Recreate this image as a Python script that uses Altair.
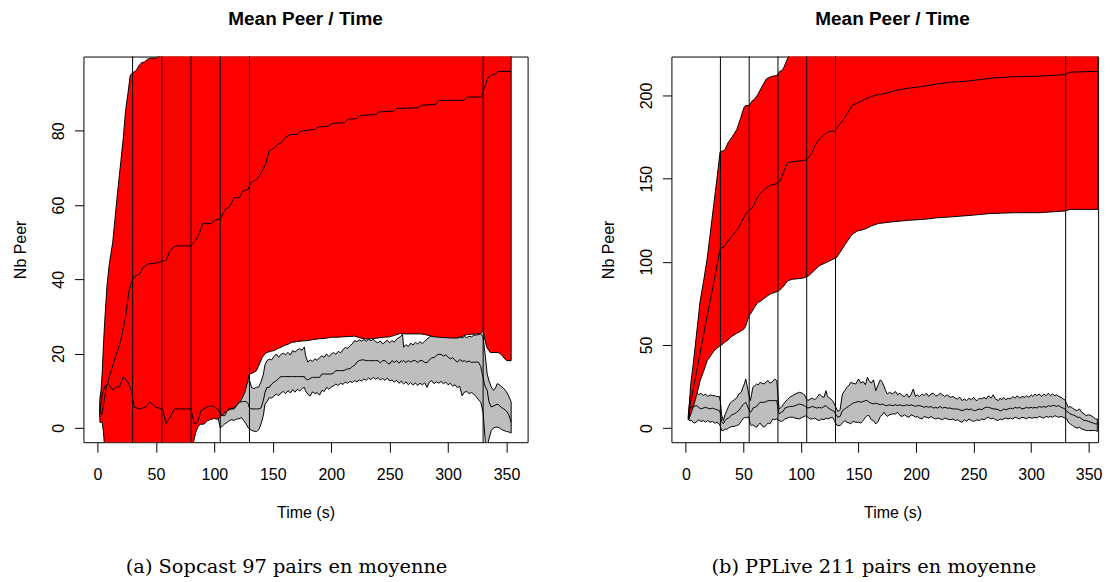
import altair as alt
import pandas as pd

# ---------------- text / ticks ----------------
X_TICKS = [0, 50, 100, 150, 200, 250, 300, 350]
VLINES = [30, 55, 80, 105, 130, 330]
TITLES = ["Mean Peer / Time", "Mean Peer / Time"]
CAPTIONS = ["(a) Sopcast 97 pairs en moyenne", "(b) PPLive 211 pairs en moyenne"]
X_LABEL = "Time (s)"
Y_LABEL = "Nb Peer"
L_Y_TICKS = [0, 20, 40, 60, 80]
R_Y_TICKS = [0, 50, 100, 150, 200]

# ---------------- Sopcast (left) ----------------
L_RED_T = [2, 3, 4, 5, 6, 8, 10, 13, 17, 20,
           22, 24, 26, 28, 30, 33, 36, 38, 40, 43,
           46, 50, 54, 58, 65, 75, 80, 82, 84, 86,
           88, 91, 94, 97, 100, 103, 105, 108, 111, 114,
           117, 120, 123, 126, 128, 130, 133, 136, 139, 141,
           143, 145, 148, 151, 154, 157, 160, 163, 166, 170,
           175, 180, 185, 190, 195, 200, 205, 210, 215, 220,
           225, 230, 235, 240, 245, 250, 255, 259, 263, 267,
           272, 277, 282, 287, 292, 297, 302, 307, 312, 316,
           320, 325, 328, 330, 331, 333, 336, 340, 343, 346,
           348, 350, 354]
L_RED_LO = [1.5, 1.5, 1.5, -1, -5, -10, -14, -18, -20, -22,
            -22, -22, -22, -22, -22, -21, -21, -20, -20, -19,
            -19, -18, -18, -17, -15, -10, -8, -4, -1.3, 0.3,
            1.0, 1.0, 1.9, 2.3, 2.5, 2.3, 3.0, 3.8, 4.6, 5.0,
            5.5, 6.3, 7.5, 9.5, 11.8, 14.5, 14.8, 15.4, 17.5, 19.0,
            19.8, 20.3, 20.6, 20.8, 21.3, 21.7, 22.2, 22.5, 23.0, 23.2,
            23.4, 23.5, 23.8, 24.0, 24.1, 24.4, 24.4, 24.5, 24.6, 24.7,
            24.2, 23.9, 24.0, 24.2, 24.4, 24.5, 25.0, 25.4, 25.3, 25.3,
            25.3, 25.3, 25.0, 24.6, 24.4, 24.3, 24.2, 24.2, 24.6, 25.1,
            25.2, 25.3, 25.4, 26.2, 24.5, 21.8, 20.3, 20.3, 20.3, 19.6,
            18.8, 18.1, 18.1]
L_RED_UP = [8, 10, 15, 22, 28, 38, 44, 50, 63, 72,
            78, 85.5, 90, 95, 95.6, 96.2, 97.8, 98.4, 98.5, 99.3,
            99.6, 99.6, 100.3, 102, 104, 106, 107, 107.5, 108, 108,
            108, 108.5, 109, 109, 109.5, 110, 110, 110.5, 111, 111,
            111.5, 112, 112, 112.5, 112.5, 113, 113, 113.5, 113.5, 114,
            114, 114.5, 114.5, 115, 115, 115, 115.5, 115.5, 116, 116,
            116, 116.5, 116.5, 117, 117, 117, 117.5, 117.5, 117.5, 118,
            118, 118, 118.5, 118.5, 118.5, 119, 119, 119, 119, 119.5,
            119.5, 119.5, 119.5, 120, 120, 120, 120, 120, 120.5, 120.5,
            120.5, 120.5, 120.5, 121, 121, 121, 121, 121, 121, 121,
            121, 121, 121]

L_MEAN_T = [2, 3.6, 7.5, 13.4, 19.5, 23.9, 26.9, 29.9, 32.9, 35.9,
            38.9, 43.4, 52.4, 55.4, 58.4, 61.4, 64.4, 67.4, 79.4, 83.9,
            86.9, 89.9, 97.4, 100.4, 104.9, 109.4, 112.4, 116.9, 121.4, 124.4,
            128.9, 131, 136.4, 139.4, 143.9, 146.9, 151.3, 154.3, 157.3, 160.3,
            164.8, 170.8, 173.8, 185.8, 188.8, 197.9, 200.9, 211.3, 214.3, 221.8,
            224.8, 238.3, 241.3, 253.3, 256.3, 274.3, 277.3, 289.2, 292.2, 313.3,
            316.3, 328.2, 331.2, 334.2, 337.2, 340.2, 342.6, 354]
L_MEAN_V = [4.5, 3.5, 10.9, 17.2, 23, 29.7, 36.9, 40, 41, 41.4,
            43.2, 44.1, 44.5, 45, 45, 47.2, 48.6, 49, 49, 50.4,
            52.2, 55, 55, 56, 56.2, 58.9, 59.3, 62, 62, 63.8,
            64.2, 66, 66.9, 68.3, 71, 74.6, 75.4, 76.3, 76.8, 78.1,
            79, 79, 79.9, 80.4, 81, 81.3, 82, 82.2, 83.1, 83.3,
            84.1, 84.4, 85.1, 85.3, 86, 86.2, 86.9, 87.1, 88.2, 88.2,
            89.1, 89.1, 91.6, 94.3, 95, 95.2, 96, 96]

L_GREY_T = [2, 4, 6, 9, 13, 16, 19, 22, 26, 28.6,
            31.5, 36, 41.5, 44.3, 47.2, 50, 55.7, 58.5, 62.8, 65.7,
            79.9, 82.8, 85.6, 88.5, 92.7, 97, 99.9, 103, 105, 107,
            109, 111, 113, 115, 117, 119, 121, 123, 125, 127,
            129, 130, 132, 134, 136, 138, 140, 142, 143.3, 145,
            147, 149, 151, 153, 155, 157, 159, 161, 163, 165,
            167, 169, 171, 173, 175, 177, 178, 180, 182, 184,
            186, 188, 190, 192, 194, 196, 198, 200, 202, 204,
            206, 208, 210, 212, 214, 216, 218, 220, 222, 224,
            226, 228, 230, 232, 234, 236, 238, 240, 242, 244,
            246, 248, 250, 252, 254, 256, 258, 260, 261, 262,
            264, 266, 268, 270, 272, 274, 276, 278, 280, 282,
            284, 286, 288, 290, 292, 294, 296, 298, 300, 302,
            304, 306, 308, 310, 312, 314, 316, 318, 320, 322,
            324, 326, 328, 330, 331, 332, 333.5, 335, 337, 339,
            341, 342, 344, 346, 347.7, 350, 352, 354]
L_GREY_LO = [3.0, 5.0, 7.0, 9.0, 8.0, 8.5, 9.0, 11.0, 10.0, 8.0,
             3.0, 3.0, 3.5, 4.5, 4.0, 3.5, 3.0, -0.5, 1.0, 3.0,
             3.0, 0.0, 0.5, 2.0, 3.0, 3.5, 3.5, 3.0, 0.0, 0.5,
             1.1, 1.5, 2.0, 2.2, 2.0, 2.4, 2.4, 2.8, 2.0, 1.1,
             0.0, -0.3, -0.7, -0.9, -1.0, -0.5, 1.1, 3.5, 6.4, 7.0,
             8.2, 8.0, 8.6, 9.1, 8.7, 9.4, 9.8, 9.2, 10.0, 9.4,
             10.3, 9.6, 10.4, 9.9, 10.6, 10.9, 10.0, 9.0, 8.6, 9.7,
             9.2, 9.5, 8.8, 10.1, 9.8, 10.9, 10.4, 11.0, 11.3, 11.8,
             11.4, 12.0, 11.7, 12.3, 12.0, 12.5, 12.2, 12.7, 12.4, 12.9,
             12.6, 13.2, 12.8, 13.4, 13.0, 13.6, 13.1, 13.5, 12.9, 13.3,
             12.8, 13.4, 12.6, 12.9, 12.3, 12.8, 12.0, 12.6, 12.1, 11.8,
             12.4, 11.6, 12.2, 11.5, 12.1, 11.4, 12.0, 11.6, 12.1, 10.9,
             12.3, 12.7, 11.9, 12.4, 12.0, 12.5, 11.9, 12.3, 11.6, 12.0,
             11.2, 11.6, 10.8, 11.2, 8.6, 9.6, 9.8, 9.2, 9.5, 9.1,
             8.4, 7.6, 6.9, 4.0, 0.0, -4.3, -5.0, -3.0, -0.7, 0.0,
             0.2, 0.2, 0.0, -0.5, -0.7, -1.0, -1.1, -1.4]
L_GREY_MID = [4.5, 9.0, 11.0, 12.0, 10.2, 10.9, 11.1, 13.8, 12.3, 10.5,
              5.5, 5.1, 5.7, 6.9, 6.4, 5.5, 5.1, 1.1, 3.3, 5.1,
              5.1, 1.1, 1.5, 4.6, 5.5, 5.9, 5.7, 5.0, 3.8, 3.3,
              3.3, 4.6, 5.4, 5.1, 5.1, 6.0, 6.9, 7.0, 7.1, 7.1,
              6.5, 5.3, 5.1, 5.1, 5.1, 5.1, 5.4, 7.5, 9.5, 10.9,
              10.9, 11.8, 12.3, 12.7, 13.3, 13.8, 13.8, 13.8, 13.8, 13.8,
              13.8, 13.8, 13.8, 13.8, 13.8, 13.8, 13.2, 12.9, 13.3, 13.6,
              13.6, 13.6, 13.6, 14.5, 14.5, 14.5, 14.5, 14.5, 14.8, 15.4,
              15.4, 15.4, 15.4, 15.6, 15.9, 15.9, 16.5, 16.8, 17.7, 18.1,
              18.3, 18.3, 18.1, 18.1, 18.1, 18.1, 18.1, 18.1, 17.5, 18.1,
              18.1, 17.5, 17.2, 18.1, 17.6, 18.1, 17.4, 18.1, 17.8, 18.1,
              17.6, 18.1, 17.7, 18.1, 18.1, 17.6, 18.1, 18.1, 17.6, 17.6,
              18.2, 18.9, 18.9, 19.5, 19.8, 19.8, 19.3, 19.7, 19.0, 18.6,
              18.9, 18.2, 17.7, 18.4, 17.9, 18.1, 17.7, 18.0, 17.6, 17.7,
              17.7, 17.7, 16.5, 13.5, 12.0, 11.0, 10.1, 7.0, 5.6, 5.9,
              6.2, 6.4, 6.0, 5.4, 5.1, 4.5, 3.5, 1.5]
L_GREY_UP = [6.0, 12.0, 14.0, 15.0, 13.0, 14.0, 14.0, 17.0, 15.0, 13.0,
             8.0, 8.0, 8.5, 9.5, 9.0, 8.0, 8.0, 3.5, 6.0, 8.0,
             8.0, 3.5, 4.0, 7.0, 8.0, 8.5, 8.5, 8.0, 6.0, 6.5,
             7.0, 8.0, 8.5, 9.0, 9.5, 10.0, 10.5, 11.0, 11.5, 11.8,
             12.5, 12.8, 10.8, 10.6, 10.9, 11.0, 12.5, 14.5, 17.0, 18.1,
             18.5, 18.3, 19.2, 19.9, 19.0, 19.8, 20.1, 19.7, 20.3, 19.6,
             20.8, 20.4, 21.0, 21.3, 20.9, 21.8, 19.5, 17.7, 18.3, 17.9,
             18.6, 18.2, 18.9, 19.4, 19.0, 19.9, 19.2, 19.8, 20.3, 19.8,
             20.6, 20.2, 21.0, 21.7, 21.4, 22.1, 22.6, 23.5, 23.2, 23.7,
             23.4, 23.8, 23.3, 23.9, 23.4, 23.9, 23.2, 22.9, 23.4, 22.6,
             23.1, 23.6, 22.9, 23.5, 23.1, 23.9, 24.3, 24.8, 25.2, 21.7,
             22.4, 21.9, 22.8, 22.3, 23.0, 22.6, 23.2, 22.7, 23.3, 23.9,
             24.4, 24.8, 24.5, 24.9, 24.6, 24.9, 24.7, 24.9, 24.6, 24.8,
             24.3, 24.6, 24.1, 24.5, 24.2, 24.6, 24.3, 24.7, 24.5, 24.9,
             25.0, 25.1, 25.3, 24.5, 21.7, 19.0, 14.5, 12.7, 11.0, 10.1,
             11.0, 11.9, 11.6, 11.0, 10.6, 9.7, 8.5, 7.0]

# ---------------- PPLive (right) ----------------
R_RED_T = [2.5, 4, 6.3, 9, 12.4, 15.3, 18.5, 21, 24.5, 27,
           29.7, 31, 33.6, 36.6, 39.6, 42, 44.2, 47.2, 50.3, 51.8,
           54.8, 56.4, 57.8, 59.4, 62.4, 65.5, 67, 70, 73, 74.6,
           79.2, 81.6, 83.7, 85.2, 86.7, 88.3, 88.9, 92.8, 100, 103.5,
           106.5, 111.1, 115.6, 121.7, 127.8, 130.8, 133.8, 138.4, 144.5, 149.1,
           155.1, 161.2, 167.2, 179.4, 194.5, 206.6, 218.7, 230.8, 249, 264.2,
           285.5, 306.7, 329.3, 333.8, 358]
R_RED_LO = [5, 8, 12.5, 19, 28.5, 34, 40.5, 43, 46.5, 48,
            49.5, 50, 51.5, 53, 55, 56, 57, 58, 59.5, 61,
            67.5, 69, 70.5, 72.5, 75.5, 76.5, 77.5, 79, 80.5, 81,
            82, 83, 84.5, 85.5, 87, 88.5, 88.7, 89.5, 90, 90.5,
            91.5, 94.5, 97.5, 99.5, 101.5, 102.5, 105.5, 110.5, 116.5, 118.5,
            119.5, 121.5, 123, 124, 125, 125.5, 126.5, 127, 128, 129,
            129.5, 129.5, 130.5, 131.5, 131.5]
R_RED_UP = [8, 25, 38, 55, 76.5, 88, 102, 116, 136, 150,
            166, 166.5, 167, 171.5, 174.5, 177, 179.5, 185.5, 192.5, 194,
            194, 195.5, 197, 197.5, 200.5, 204.5, 206.5, 210, 211, 211.5,
            212, 214.5, 215, 217, 219.5, 222, 223, 229, 235, 237,
            239, 242, 244, 248, 251, 253, 255, 258, 262, 265,
            268, 270, 272, 276, 280, 283, 285, 287, 289, 291,
            293, 294, 295, 297, 298]

R_MEAN_T = [2.5, 3.3, 29.7, 33.6, 36.6, 41.2, 45.8, 48.8, 51.8, 54.8,
            57.8, 60.9, 63.9, 68.5, 73, 79.2, 82.2, 85.2, 88.3, 91.3,
            103.5, 106.5, 109.6, 112.6, 115.6, 120.2, 124.8, 129.3, 132.4, 136.9,
            141.5, 144.5, 149.1, 155.1, 161.2, 167.2, 174.8, 182.3, 194.5, 206.6,
            218.7, 230.8, 243, 255.1, 267.3, 285.5, 303.7, 315.8, 329.3, 333.8,
            358]
R_MEAN_V = [6, 12.5, 107.5, 109.5, 112.5, 116.5, 120.5, 124.5, 128.5, 131,
            132.5, 137, 140.5, 143.5, 146, 147, 149, 154.5, 159.5, 160,
            161, 162.5, 165.5, 170.5, 173.5, 176.5, 178.5, 178.5, 181.5, 185.5,
            190.5, 194, 195.5, 197.5, 199.5, 200.5, 201.5, 203, 204.5, 205.5,
            207, 208, 208.5, 209.5, 210.5, 211.3, 211.5, 212, 212.5, 214,
            214.5]

R_GREY_T = [2, 3.5, 5, 7, 9, 11, 13, 15, 17, 19,
            21, 23, 25, 27, 29, 30, 31, 32.5, 34, 35.5,
            37, 38.5, 40, 42, 44, 46, 48, 49.6, 51, 52,
            53, 54.8, 56, 57, 58.2, 60, 61.5, 63, 64.5, 66,
            68, 70, 71.5, 73, 75.5, 77, 79, 80, 81, 83,
            84.5, 86, 88, 90, 92.8, 95, 98.6, 101, 103, 104.4,
            106, 108, 110, 112, 114, 116, 118, 120, 121.7, 123,
            125, 127.4, 129, 130.3, 132, 134, 136, 138, 140, 142,
            143.3, 145, 147.6, 150, 152, 154, 156, 157.7, 159.2, 161,
            163, 165, 167, 169, 170.7, 172.2, 173.6, 175, 177, 179.4,
            182.2, 184, 186, 188, 190, 192, 193.8, 195.5, 197.6, 199.5,
            201, 203, 205.3, 207, 209, 211, 213, 215, 217, 218.7,
            221, 223, 225, 227, 229.8, 232, 234.2, 236, 238, 240,
            242, 244, 246, 248, 250, 251.5, 253, 255, 257.2, 259,
            261, 263, 265, 267, 269, 271.6, 273, 274.5, 276, 278,
            280, 282, 284, 286.1, 288, 290, 292, 294.7, 296, 298,
            300, 301.5, 303.3, 305, 307, 309, 311, 313, 315, 317,
            318.5, 320.6, 322, 324, 326, 327.8, 329.3, 331, 332.2, 334,
            336, 338, 340, 342, 344, 346, 347.9, 350, 352, 354,
            356, 357.5]
R_GREY_LO = [5, 4.5, 4.5, 3, 3.5, 5, 4, 4.5, 3.5, 4.5,
             3.5, 4, 3, 3.5, 2.5, 1, -1.5, -1.5, -0.5, -0.8,
             0, 0.5, 1, 1, 1.5, 2, 4, 5.5, 6.5, 6,
             6.5, 6.5, 2, 1.5, 2, 1, 0.5, 2, 3, 1.5,
             0.5, 2, 3, 2.5, 5.5, 5, 5.5, 5, 4.5, 4,
             4.5, 5.5, 6, 6.5, 6.5, 6, 5.5, 6.5, 7, 7.5,
             6.5, 5.5, 5.5, 6, 5, 4.5, 5.5, 5, 6, 5.5,
             6, 6.5, 4.5, 2.5, 1.5, 1.5, 3, 4.5, 3.5, 3,
             2.5, 4, 3.5, 3.5, 3, 4.5, 6.5, 7.5, 7.5, 5,
             4.5, 2.5, 4, 7, 8, 9.5, 8, 7, 8, 8.5,
             8.5, 9.5, 7.5, 7, 8, 7, 6.5, 8, 7.5, 6.5,
             7, 6, 5.5, 7, 6.5, 6, 7, 6, 5.5, 6,
             5.5, 5, 6, 5.5, 5, 5.5, 4.5, 5, 4, 3.5,
             5, 4, 5.5, 4.5, 4, 4.5, 5, 4.5, 5.5, 5,
             6, 6.5, 5.5, 6, 5, 4.5, 5.5, 5, 5.5, 6,
             5.5, 6, 5.5, 6.5, 6, 5.5, 6.5, 6, 5.5, 6.5,
             6, 6, 6.5, 6, 7, 6.5, 6, 7, 6.5, 7,
             6.5, 7.5, 7, 6.5, 7, 6.5, 6, 5.5, 3.5, 2.5,
             1.5, 0.5, 0, 0.5, -0.5, -1, -1.5, -1.5, -1.5, -1.5,
             -1.5, -2]
R_GREY_MID = [6, 12, 12.5, 13, 13.5, 12.5, 11.5, 12, 12.5, 12,
              11.5, 12, 11.5, 11, 10.5, 9, 4, 2.5, 4.5, 5.5,
              6, 7, 8, 8.5, 9.5, 10.5, 12.5, 14, 15, 15.5,
              14, 11, 9.5, 10, 12, 12.5, 13, 14.5, 15.5, 15.5,
              15.5, 16, 16.5, 16.5, 16.5, 16.5, 16.5, 12, 8.5, 9.5,
              10, 12, 12.5, 13, 13, 13.5, 14.5, 14, 13.5, 12.5,
              12, 12.5, 13, 12.5, 12, 12.5, 12, 13, 13.5, 12.5,
              11.5, 10.5, 10, 8, 6.5, 7, 10.5, 11.5, 12.5, 13.5,
              14, 15, 15.5, 16, 15.5, 16, 16.5, 16.5, 15.5, 15,
              14.5, 15, 14.5, 14, 14.5, 14, 13.5, 13.5, 14, 13.5,
              14, 13.5, 14, 13.5, 13.5, 14, 13.5, 14, 13.5, 13,
              13.5, 13.5, 13, 12.5, 13, 12.5, 13, 12, 12.5, 12,
              13, 12, 12.5, 12, 12, 11.5, 11.5, 11.5, 11, 10.5,
              11, 11.5, 11, 11.5, 10.5, 10.5, 11, 11.5, 11, 12,
              12.5, 12.5, 12, 11.5, 11.5, 11, 10.5, 10.5, 11.5, 11,
              11.5, 12, 11.5, 12.5, 12, 12.5, 11.5, 12, 12.5, 12,
              12.5, 12, 12.5, 12, 13, 12.5, 13, 12.5, 13.5, 13,
              13.5, 13.5, 13, 13.5, 12.5, 12, 11.5, 10, 9.5, 8.5,
              8, 7.5, 6.5, 6.5, 5.5, 4.5, 4.5, 4, 3.5, 3,
              2.5, 2.5]
R_GREY_UP = [7, 19, 20.5, 21, 21.5, 20, 21, 19.5, 20.5, 19,
             20, 19.5, 19.5, 19, 19, 16, 8, 4.5, 8, 10.5,
             13, 15, 16, 17, 18, 20.5, 21.5, 24.5, 27, 29.5,
             26, 20, 16.5, 20, 24.5, 25.5, 26.5, 26, 27.5, 27,
             26.5, 28, 28.5, 27, 28, 29.5, 28.5, 20, 11.5, 12.5,
             14, 15.5, 17, 18.5, 19.5, 20.5, 21.5, 21, 20, 18,
             16.5, 17.5, 18, 17, 18.5, 20.5, 19, 18.5, 22.5, 19,
             18, 16.5, 14.5, 12.5, 10, 11, 20.5, 22.5, 24.5, 26,
             27.5, 27, 26.5, 29.5, 27, 28, 26, 30.5, 28.5, 27,
             29, 22.5, 26, 29, 27.5, 25, 22.5, 20.5, 21.5, 20.5,
             22, 20, 21, 19.5, 19, 20.5, 18.5, 20, 23.5, 19,
             20, 19, 20.5, 19.5, 21, 19, 20.5, 21, 19.5, 19.5,
             21, 20, 19, 20, 18.5, 19, 18, 17.5, 18.5, 16.5,
             17.5, 16.5, 18, 17, 18.5, 17, 16.5, 18, 17.5, 18.5,
             17.5, 19.5, 18, 20, 17.5, 16.5, 18, 17, 18.5, 17,
             18, 17.5, 19, 18, 19.5, 18, 19, 18.5, 19.5, 18.5,
             20, 19, 20.5, 19.5, 20.5, 19, 20.5, 19.5, 21, 19.5,
             20.5, 19.5, 20, 19, 18.5, 17.5, 17, 14.5, 12.5, 13,
             12, 11, 10.5, 11.5, 9.5, 8.5, 7.5, 8, 7.5, 6.5,
             5.5, 5.5]

# ---------------- style ----------------
RED = "#FF0000"
GREY = "#BEBEBE"
SANS = "Liberation Sans"
SERIF = "DejaVu Serif"
H = 386.4
FS = 16


def panel(red_t, red_lo, red_up, mean_t, mean_v, g_t, g_lo, g_mid, g_up,
          xdom, ydom, yticks, width, title, title_x, time_x, caption, caption_x):
    xs = alt.Scale(domain=xdom, nice=False, zero=False)
    ys = alt.Scale(domain=ydom, nice=False, zero=False)
    xax = alt.Axis(values=X_TICKS, title=X_LABEL, titleX=time_x, titleY=70.9,
                   titleAlign="center", titleBaseline="middle", titleAngle=0)
    yax = alt.Axis(values=yticks, title=Y_LABEL, titleX=-63.4, titleY=H / 2,
                   titleAlign="center", titleBaseline="middle", titleAngle=270)

    red_df = pd.DataFrame({"t": red_t, "lo": red_lo, "up": red_up})
    mean_df = pd.DataFrame({"t": mean_t, "v": mean_v})
    grey_df = pd.DataFrame({"t": g_t, "lo": g_lo, "mid": g_mid, "up": g_up})
    vl_df = pd.DataFrame({"t": VLINES})

    X = alt.X("t:Q", scale=xs, axis=xax)

    grey_area = alt.Chart(grey_df).mark_area(
        fill=GREY, stroke="black", strokeWidth=1, opacity=1, clip=True
    ).encode(x=X, y=alt.Y("lo:Q", scale=ys, axis=yax), y2="up:Q")

    red_area = alt.Chart(red_df).mark_area(
        fill=RED, stroke="black", strokeWidth=1, opacity=1, clip=True
    ).encode(x=X, y=alt.Y("lo:Q", scale=ys, axis=yax), y2="up:Q")

    grey_mid = alt.Chart(grey_df).mark_line(
        color="black", strokeWidth=1, clip=True
    ).encode(x=X, y=alt.Y("mid:Q", scale=ys, axis=yax))

    red_mean = alt.Chart(mean_df).mark_line(
        color="black", strokeWidth=1, clip=True
    ).encode(x=X, y=alt.Y("v:Q", scale=ys, axis=yax))

    rules = alt.Chart(vl_df).mark_rule(color="black", strokeWidth=1).encode(x=X)

    title_txt = alt.Chart(pd.DataFrame({"label": [title]})).mark_text(
        font=SANS, fontSize=19, fontWeight="bold", align="center",
        baseline="middle", color="black"
    ).encode(x=alt.value(title_x), y=alt.value(-37.2), text="label:N")

    cap_txt = alt.Chart(pd.DataFrame({"label": [caption]})).mark_text(
        font=SERIF, fontSize=19.4, align="center", baseline="middle", color="black"
    ).encode(x=alt.value(caption_x), y=alt.value(511.2), text="label:N")

    return alt.layer(grey_area, red_area, grey_mid, red_mean, rules,
                     title_txt, cap_txt).properties(width=width, height=H)


left = panel(L_RED_T, L_RED_LO, L_RED_UP, L_MEAN_T, L_MEAN_V,
             L_GREY_T, L_GREY_LO, L_GREY_MID, L_GREY_UP,
             [-12.08, 368.08], [-3.87, 100.0], L_Y_TICKS, 445,
             TITLES[0], 222.5, 222.5, CAPTIONS[0], 203.5)
right = panel(R_RED_T, R_RED_LO, R_RED_UP, R_MEAN_T, R_MEAN_V,
              R_GREY_T, R_GREY_LO, R_GREY_MID, R_GREY_UP,
              [-12.57, 358.2], [-8.5, 223.4], R_Y_TICKS, 427.5,
              TITLES[1], 221.5, 221.5, CAPTIONS[1], 202.8)

chart = alt.hconcat(left, right, spacing=144.1, bounds="flush").properties(
    padding={"left": 11.6, "top": 9.1, "right": 7.5, "bottom": 6.1},
    background="white",
).configure_view(
    stroke="black", strokeWidth=1
).configure_axis(
    domain=False, grid=False, ticks=True, tickColor="black", tickWidth=1,
    labelColor="black", labelFont=SANS, labelFontSize=FS,
    titleColor="black", titleFont=SANS, titleFontSize=FS, titleFontWeight="normal",
    labelFlush=False, labelOverlap=False, labelBound=False,
).configure_axisX(
    tickSize=10, labelPadding=22.3, labelBaseline="middle", labelAlign="center", labelAngle=0,
).configure_axisY(
    tickSize=9, labelPadding=16.2, labelAngle=270, labelAlign="center", labelBaseline="middle",
)

chart.save("out.html", embed_options={"renderer": "svg", "actions": False})
